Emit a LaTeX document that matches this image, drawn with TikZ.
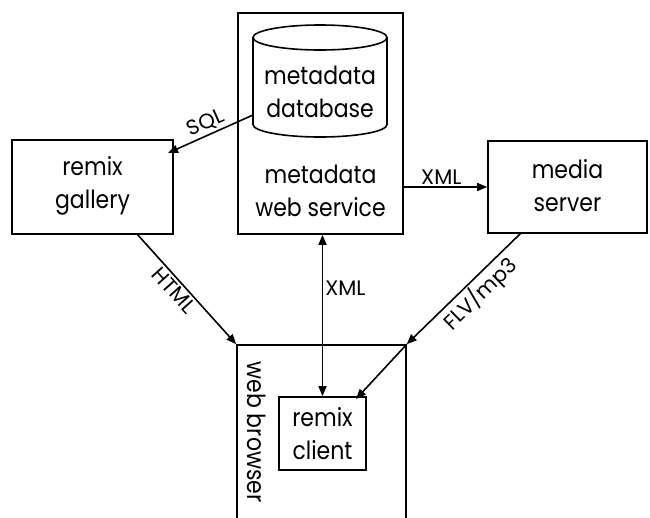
\documentclass[tikz,border=0pt]{standalone}
\usepackage{fontspec}
\setmainfont{Poppins}[FakeStretch=0.88]
\newfontfamily\tagfont{Poppins}
\usetikzlibrary{arrows.meta}
\begin{document}
\begin{tikzpicture}[x=1pt,y=-1pt,line width=1.6pt,
  box/.style={draw,rectangle,inner sep=0pt},
  txt/.style={font=\fontsize{25}{33}\selectfont,align=center,inner sep=0pt},
  tag/.style={font=\tagfont\fontsize{21}{24}\selectfont,inner sep=2pt},
  conn/.style={-{Triangle[length=10pt,width=8pt]}},
  both/.style={{Triangle[length=10pt,width=8pt]}-{Triangle[length=10pt,width=8pt]}}]
\clip (0,0) rectangle (650,517);

% boxes
\node[box,minimum width=165pt,minimum height=221pt] (ws) at (320.5,123.5) {};
\node[box,minimum width=161pt,minimum height=94pt] (gallery) at (92.5,187) {};
\node[box,minimum width=159pt,minimum height=92pt] (media) at (567.5,187) {};
\node[box,minimum width=169pt,minimum height=200pt] (browser) at (321.5,445) {};
\node[box,minimum width=87pt,minimum height=73pt] (client) at (322.5,433.5) {};

% database cylinder inside the web service
\draw (253,37.5) arc[start angle=180,end angle=-180,x radius=67,y radius=12.5]
      -- (253,124.5) arc[start angle=180,end angle=0,x radius=67,y radius=12.5]
      -- (387,37.5);
\coordinate (dbleft) at (253,115);

% texts
\node[txt] (dbtext) at (320,92) {metadata\\database};
\node[txt] (wstext) at (320.5,191) {metadata\\web service};
\node[txt] (gtext) at (92.5,186) {remix\\gallery};
\node[txt] (mtext) at (567.5,186) {media\\server};
\node[txt] (ctext) at (322.5,434) {remix\\client};
\node[txt,rotate=-90] (btext) at (257,432) {web browser};

% connector end points
\coordinate (sqlEnd) at (168,153);
\coordinate (htmlStart) at (137,234);
\coordinate (flvStart) at (521,233);
\coordinate (flvEnd) at (356,399);

% connectors
\draw[conn] (dbleft) -- node[tag,sloped,above,pos=0.5] (sqllbl) {SQL} (sqlEnd);
\draw[conn] (ws.east |- media.west) -- node[tag,above,pos=0.45] (xmlh) {XML} (media.west);
\draw[both] (client.north |- ws.south) -- node[tag,right,pos=0.33] (xmlv) {XML} (client.north);
\draw[conn] (htmlStart) -- node[tag,sloped,below,pos=0.45] (htmllbl) {HTML} (browser.north west);
\draw[conn] (flvStart) -- node[tag,sloped,below,pos=0.45] (flvlbl) {FLV/mp3} (browser.north east);
\draw[conn] (browser.north east) -- (flvEnd);
\end{tikzpicture}
\end{document}
